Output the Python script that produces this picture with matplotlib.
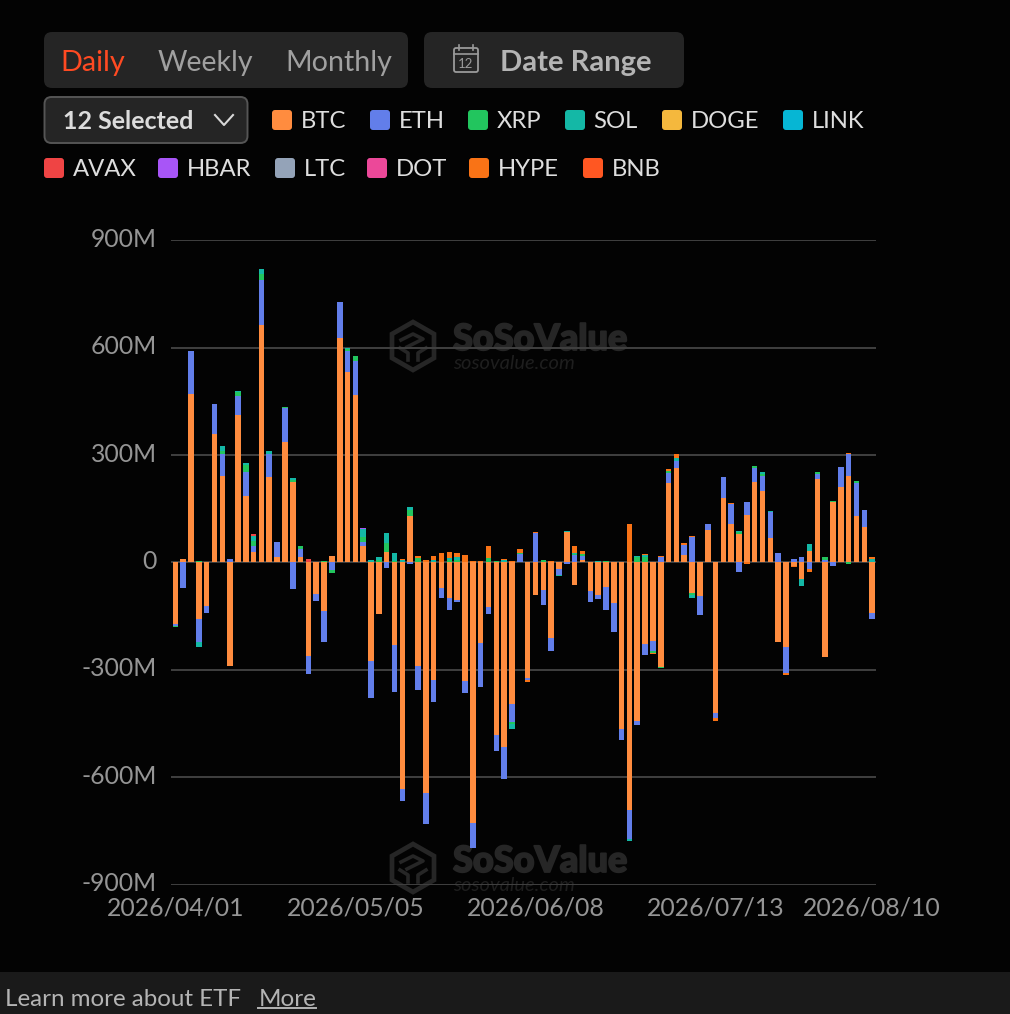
import numpy as np
import matplotlib
matplotlib.use("Agg")
import matplotlib.pyplot as plt
import matplotlib.patheffects as pe
from matplotlib.patches import FancyBboxPatch, Rectangle, Polygon
from matplotlib.transforms import ScaledTranslation

plt.rcParams['font.family'] = ['Lato', 'DejaVu Sans']

tick_positions = [0, 23, 46, 69, 89]
tick_labels = ['2026/04/01', '2026/05/05', '2026/06/08', '2026/07/13', '2026/08/10']
y_ticks = [-900, -600, -300, 0, 300, 600, 900]
y_labels = ['-900M', '-600M', '-300M', '0', '300M', '600M', '900M']
names = ['BTC', 'ETH', 'XRP', 'SOL', 'DOGE', 'LINK', 'AVAX', 'HBAR', 'LTC', 'DOT', 'HYPE', 'BNB']
colors = ['#ff8c3f', '#627eea', '#22c55e', '#14b8a6', '#f5b83d', '#06b6d4',
          '#ef4444', '#a855f7', '#94a3b8', '#ec4899', '#f97316', '#ff5722']

BTC = [-172, 9, 470, -158, -122, 359, 241, -289, 411, 186,
       28, 663, 238, 14, 337, 224, 16, -261, -88, -135,
       17, 628, 532, 467, 47, -275, -144, 28, -231, -632,
       131, -289, -645, -329, -71, -100, -104, -332, -729, -226,
       -124, -482, -516, -395, 2, -323, -91, -76, -212, -18,
       84, -64, 8, -81, -90, -68, -112, -466, -693, -442,
       -227, -220, -291, 222, 265, 21, -84, -94, 90, -422,
       180, 108, 80, 132, 226, 201, 69, -223, -237, -10,
       -47, 32, 232, -264, 169, 211, 243, 129, 99, -142]
ETH = [-5, -70, 122, -64, -19, 84, 63, 9, 54, 68,
       17, 127, 66, 43, 94, -74, 22, -50, -21, -88,
       -22, 101, 60, 97, 11, -103, 0, -16, -131, -36,
       -5, -66, -86, -62, -27, -32, -6, -34, -68, -122,
       -19, -44, -89, -52, 22, -6, 82, -42, -36, -16,
       -5, 21, 9, -30, -13, -66, -83, -31, -81, -12,
       -32, -28, 16, 28, 19, 27, 71, -53, 19, -14,
       59, 55, -27, 38, 37, 40, 72, 27, -73, 9,
       15, -17, 15, 8, -11, 55, 61, 93, 49, -15]
XRP = [-3, 0, 0, 3, 0, 0, 9, 0, 11, 19,
       14, 16, 0, 0, 4, 6, 8, 0, 2, 3,
       -6, 0, 4, 12, 14, 0, 8, 26, 5, 0,
       17, 12, 0, 0, 0, 8, 8, 0, 0, 0,
       12, 3, 0, -4, 3, 0, 0, 7, 0, 0,
       0, 3, 6, 0, 0, 5, 0, 2, 0, 16,
       16, -6, -3, 7, 0, 0, -6, 0, 0, 0,
       0, 0, 6, 0, 6, 6, 0, 0, 0, 0,
       0, 0, 6, 8, 3, 0, -3, 5, 0, 0]
SOL = [0, 2, 0, -15, 0, 0, 14, 2, 2, 4,
       14, 13, 9, 0, 0, 7, 0, 0, 0, 0,
       0, 0, 3, 0, 21, 8, 6, 28, 21, 7,
       8, 0, 0, 6, 0, 5, 6, 0, 0, 0,
       0, 0, 6, -15, 0, 0, 0, 0, 0, -5,
       4, 3, 0, 0, 5, 0, 0, 0, -5, 3,
       5, 0, 0, 0, 9, 0, -9, 0, 0, 0,
       0, 0, 3, 0, 0, 6, 4, 0, 0, 2,
       -19, 19, 0, 0, 0, 2, 0, 0, 0, 9]
AVAX = [0] * 10 + [6] + [0] * 6 + [10] + [0] * 72
HBAR = [0] * 24 + [4] + [0] * 65
HYPE = [0, 0, 0, 0, 0, 0, 0, 0, 0, 0,
        0, 0, 0, 0, 0, 0, 0, 0, 0, 0,
        0, 0, 0, 0, 0, 0, 0, 0, 0, 2,
        0, 5, 7, 11, 27, 16, 12, 21, 3, 3,
        33, 0, 4, 3, 11, -4, 4, 0, 4, 2,
        0, 18, 9, 2, 0, 0, 0, 0, 108, 0,
        3, -3, 3, 5, 9, 6, 3, 0, 0, -6,
        0, 2, 0, -3, 0, 0, 0, 0, -5, -3,
        0, -9, 0, 0, 0, 0, 2, 2, 0, 5]
DOGE = [0] * 90
LINK = [0] * 90
LTC = [0] * 90
DOT = [0] * 90
BNB = [0] * 90
series = [BTC, ETH, XRP, SOL, DOGE, LINK, AVAX, HBAR, LTC, DOT, HYPE, BNB]

W, H = 1010, 1014
BG = '#030303'
fig = plt.figure(figsize=(W / 100, H / 100), dpi=100, facecolor=BG)

ui = fig.add_axes([0, 0, 1, 1], zorder=0)
ui.set_xlim(0, W)
ui.set_ylim(H, 0)
ui.axis('off')


def pill(x0, y0, x1, y1, fc, ec='none', lw=0, r=8):
    ui.add_patch(FancyBboxPatch((x0 + r, y0 + r), x1 - x0 - 2 * r, y1 - y0 - 2 * r,
                                boxstyle=f"round,pad={r},rounding_size={r}",
                                fc=fc, ec=ec, lw=lw))


def label(x, y, s, color, size, weight='normal', ha='left'):
    return ui.text(x, y, s, color=color, fontsize=size, fontweight=weight,
                   ha=ha, va='center_baseline')


# top controls
pill(44, 32, 408, 88, '#252525')
pill(424, 32, 684, 88, '#252525')
label(60, 60, 'Daily', '#ff4a22', 20.8)
label(157.5, 60, 'Weekly', '#a0a0a0', 20.5)
label(285, 60, 'Monthly', '#a0a0a0', 20.6)
label(499.5, 60, 'Date Range', '#b4b4b4', 21, 'bold')
# calendar icon
ui.add_patch(FancyBboxPatch((454, 48), 24, 24, boxstyle="round,pad=0,rounding_size=2",
                            fc='none', ec='#9a9a9a', lw=1.3))
ui.plot([454, 478], [54, 54], color='#9a9a9a', lw=1.2)
ui.plot([459, 459], [45, 50], color='#9a9a9a', lw=1.2)
ui.plot([473, 473], [45, 50], color='#9a9a9a', lw=1.2)
ui.text(466, 63.5, '12', color='#9a9a9a', fontsize=9.5, ha='center', va='center')

# selector
pill(44.5, 97, 247.5, 143, '#252525', ec='#555555', lw=1.4, r=7)
label(63, 119.5, '12 Selected', '#dcdcdc', 18, 'bold')
ui.plot([215, 224, 233], [115, 125, 115], color='#d8d8d8', lw=1.5)

# legend
legend_pos = {
    'BTC': (272, 120), 'ETH': (370, 120), 'XRP': (468, 120), 'SOL': (565, 120),
    'DOGE': (662, 120), 'LINK': (783, 120), 'AVAX': (44, 168), 'HBAR': (158, 168),
    'LTC': (275, 168), 'DOT': (367, 168), 'HYPE': (469, 168), 'BNB': (583, 168),
}
for n, c in zip(names, colors):
    x, y = legend_pos[n]
    ui.add_patch(FancyBboxPatch((x + 3, y - 7), 14, 14, boxstyle="round,pad=3,rounding_size=3",
                                fc=c, ec='none'))
    label(x + 28.5, y, n, '#dedede', 17.2)

# watermarks
WM = '#262626'
for dy in (0, 522):
    cx, cy = 413, 346 + dy
    hx = [cx, cx + 21, cx + 21, cx, cx - 21, cx - 21]
    hy = [cy - 24, cy - 12, cy + 12, cy + 24, cy + 12, cy - 12]
    ui.add_patch(Polygon(list(zip(hx, hy)), closed=True, fc='none', ec=WM, lw=3.4))
    ui.plot([cx - 12, cx, cx + 10, cx + 2, cx - 6], [cy - 6, cy - 12, cy - 7, cy - 3, cy + 1],
            color=WM, lw=2.6)
    ui.plot([cx - 13, cx - 5, cx - 5], [cy + 2, cy + 7, cy + 14], color=WM, lw=2.6)
    ui.plot([cx + 13, cx + 5, cx + 5], [cy + 2, cy + 7, cy + 14], color=WM, lw=2.6)
    ui.text(453, 339.5 + dy, 'SoSoValue', color=WM, fontsize=26, fontweight='black',
            ha='left', va='center',
            path_effects=[pe.withStroke(linewidth=1.3, foreground=WM)])
    ui.text(453, 363.5 + dy, 'sosovalue.com', color='#1e1e1e', fontsize=14.5, style='italic',
            ha='left', va='center')

# footer
ui.add_patch(Rectangle((0, 972), W, 42, fc='#1a1a1a', ec='none'))
label(5, 998, 'Learn more about ETF', '#b4b4b4', 17.4)
label(258.5, 998, 'More', '#b4b4b4', 17.5)
ui.plot([258, 316], [1008, 1008], color='#b4b4b4', lw=1.4)

# chart
left, right, top, bottom = 171.0, 876.0, 240.5, 884.5
ax = fig.add_axes([left / W, 1 - bottom / H, (right - left) / W, (bottom - top) / H], zorder=1)
ax.patch.set_alpha(0)
step = 7.83
x0 = 175.3
ax.set_xlim((left - x0) / step, (right - x0) / step)
ax.set_ylim(-900, 900)

xs = np.arange(90)
pos = np.zeros(90)
neg = np.zeros(90)
for n, c, vals in zip(names, colors, series):
    v = np.array(vals, dtype=float)
    base = np.where(v >= 0, pos, neg)
    ax.bar(xs, v, bottom=base, width=0.71, color=c, linewidth=0, zorder=3, label=n)
    pos += np.clip(v, 0, None)
    neg += np.clip(v, None, 0)

ax.set_axisbelow(True)
ax.yaxis.grid(True, color='#404040', lw=1.4)
ax.xaxis.grid(False)
for s in ax.spines.values():
    s.set_visible(False)
ax.set_yticks(y_ticks)
ax.set_yticklabels(y_labels)
ax.set_xticks(tick_positions)
ax.set_xticklabels(tick_labels)
ax.tick_params(axis='both', length=0, labelsize=17.8, labelcolor='#959595')
ax.tick_params(axis='y', pad=10)
ax.tick_params(axis='x', pad=8.5)
off = ScaledTranslation(0, 3 / 100, fig.dpi_scale_trans)
for t in ax.get_yticklabels():
    t.set_transform(t.get_transform() + off)

fig.savefig('out.png', dpi=100, facecolor=BG)
